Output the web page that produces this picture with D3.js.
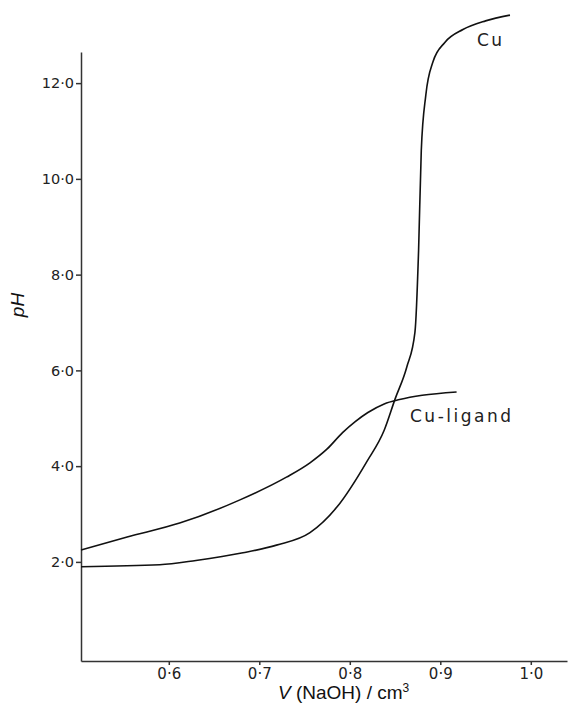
<!DOCTYPE html>
<html>
<head>
<meta charset="utf-8">
<script src="https://cdn.jsdelivr.net/npm/d3@7"></script>
<style>
  body { margin: 0; background: #fff; }
  .tick text { font-family: "DejaVu Sans", sans-serif; fill: #222; }
  .curve { fill: none; stroke: #111; stroke-width: 1.6; }
  .label { font-family: "DejaVu Sans", sans-serif; font-size: 17px; fill: #222; letter-spacing: 2.5px; }
  .title { font-family: "Liberation Sans", Arial, sans-serif; font-size: 19px; fill: #111; }
</style>
</head>
<body>
<svg width="571" height="707"></svg>
<script>
// Cu titration curve
const cuVolume = [0.503, 0.590, 0.630, 0.682, 0.719, 0.756, 0.786, 0.819, 0.838, 0.850, 0.863, 0.872, 0.876, 0.879, 0.884, 0.892, 0.905, 0.925, 0.950, 0.977]
const cuPH     = [1.90, 1.94, 2.03, 2.19, 2.35, 2.61, 3.15, 4.10, 4.75, 5.40, 6.07, 6.80, 8.50, 10.60, 11.75, 12.45, 12.85, 13.12, 13.30, 13.42]

// Cu-ligand titration curve
const ligandVolume = [0.503, 0.554, 0.612, 0.678, 0.730, 0.756, 0.775, 0.792, 0.806, 0.820, 0.838, 0.855, 0.880, 0.918]
const ligandPH     = [2.25, 2.52, 2.81, 3.29, 3.77, 4.07, 4.36, 4.70, 4.93, 5.12, 5.30, 5.39, 5.48, 5.55]

const xTicks = [0.6, 0.7, 0.8, 0.9, 1.0]
const yTicks = [2, 4, 6, 8, 10, 12]

const svg = d3.select('svg')

const x = d3.scaleLinear().domain([0.503, 1.04]).range([81, 567])
const y = d3.scaleLinear().domain([-0.07, 12.65]).range([661, 52])

const fmt = d => d3.format('.1f')(d).replace('.', '\u00b7')

svg.append('g')
  .attr('transform', 'translate(81,0)')
  .call(d3.axisLeft(y).tickValues(yTicks).tickFormat(fmt).tickSize(5).tickSizeOuter(0).tickPadding(2))
  .call(g => g.selectAll('text').style('font-size', '14.5px'))
  .call(g => g.selectAll('path,line').attr('stroke', '#333').attr('stroke-width', 1.5))

svg.append('g')
  .attr('transform', 'translate(0,661)')
  .call(d3.axisBottom(x).tickValues(xTicks).tickFormat(fmt).tickSize(4).tickSizeOuter(0).tickPadding(3))
  .call(g => g.selectAll('text').style('font-size', '15px'))
  .call(g => g.selectAll('path,line').attr('stroke', '#333').attr('stroke-width', 1.5))

const line = d3.line()
  .x(d => x(d[0]))
  .y(d => y(d[1]))
  .curve(d3.curveMonotoneX)

svg.append('path')
  .attr('class', 'curve')
  .attr('d', line(d3.zip(cuVolume, cuPH)))

svg.append('path')
  .attr('class', 'curve')
  .attr('d', line(d3.zip(ligandVolume, ligandPH)))

svg.append('text').attr('class', 'label').attr('x', 477).attr('y', 46).text('Cu')
svg.append('text').attr('class', 'label').attr('x', 410).attr('y', 422).text('Cu-ligand')

const xt = svg.append('text').attr('class', 'title').attr('x', 278).attr('y', 699)
xt.append('tspan').style('font-style', 'italic').text('V')
xt.append('tspan').text(' (NaOH) / cm')
xt.append('tspan').attr('dy', -7).style('font-size', '12px').text('3')

svg.append('text')
  .attr('class', 'title')
  .attr('transform', 'translate(24,305) rotate(-90)')
  .attr('text-anchor', 'middle')
  .style('font-style', 'italic')
  .text('pH')
</script>
</body>
</html>
